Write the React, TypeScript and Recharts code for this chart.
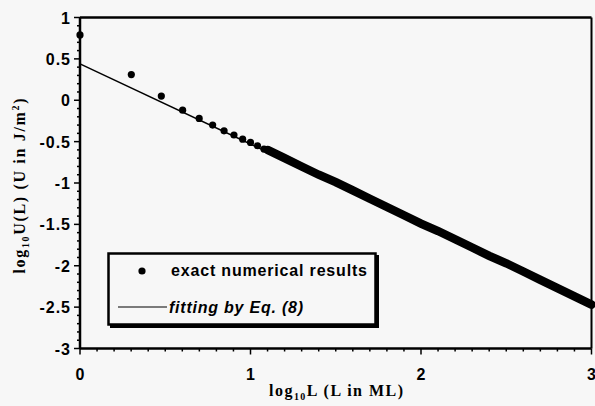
import { ComposedChart, Scatter, Line, XAxis, YAxis, Legend, ReferenceLine } from 'recharts'

// isolated dots, L = 1..12 ML
const DOT_LOG_L = [0, 0.301, 0.477, 0.602, 0.699, 0.778, 0.845, 0.903, 0.954, 1.0, 1.041, 1.079]
const DOT_LOG_U = [0.79, 0.31, 0.05, -0.12, -0.22, -0.3, -0.37, -0.42, -0.47, -0.51, -0.55, -0.59]

// dense part, where the dots merge into one thick band
const BAND_LOG_L = [1.1, 1.2, 1.3, 1.4, 1.5, 1.6, 1.7, 1.8, 1.9, 2.0, 2.1, 2.2, 2.3, 2.4, 2.5, 2.6, 2.7, 2.8, 2.9, 3.0]
const BAND_LOG_U = [-0.6, -0.7, -0.8, -0.9, -0.99, -1.09, -1.19, -1.29, -1.39, -1.49, -1.58, -1.68, -1.78, -1.88, -1.97, -2.07, -2.17, -2.27, -2.37, -2.47]

// fitting by Eq. (8)
const FIT_LOG_L = [0, 3]
const FIT_LOG_U = [0.44, -2.47]

const X_MAJOR = [0, 1, 2, 3]
const Y_MAJOR = [1, 0.5, 0, -0.5, -1, -1.5, -2, -2.5, -3]

const X_TICKS = Array.from({ length: 31 }, (_, i) => i / 10)
const Y_TICKS = Array.from({ length: 41 }, (_, i) => (i - 30) / 10)

const dots = DOT_LOG_L.map((x, i) => ({ x, y: DOT_LOG_U[i] }))
const band = BAND_LOG_L.map((x, i) => ({ x, y: BAND_LOG_U[i] }))
const fit = FIT_LOG_L.map((x, i) => ({ x, y: FIT_LOG_U[i] }))

const tickFont = { fontFamily: 'Arial, "Liberation Sans", sans-serif', fontWeight: 700, fontSize: 16, fill: '#000' }
const titleFont = { fontFamily: '"Liberation Serif", "Times New Roman", serif', fontWeight: 700, fontSize: 16, fill: '#000' }

const isMajor = (v: number, list: number[]) => list.some(m => Math.abs(m - v) < 1e-6)

function XTick(props: any) {
  const { x, y, payload } = props
  const v = payload.value
  const major = isMajor(v, X_MAJOR)
  return (
    <g>
      <line x1={x} y1={y} x2={x} y2={y + (major ? 6 : 3)} stroke="#000" strokeWidth={1.5} />
      {major && (
        <text x={x} y={y + 31} textAnchor="middle" style={tickFont}>
          {Math.round(v)}
        </text>
      )}
    </g>
  )
}

function YTick(props: any) {
  const { x, y, payload } = props
  const v = payload.value
  const major = isMajor(v, Y_MAJOR)
  return (
    <g>
      <line x1={x} y1={y} x2={x - (major ? 6 : 3)} y2={y} stroke="#000" strokeWidth={1.5} />
      {major && (
        <text x={x - 9} y={y + 6} textAnchor="end" letterSpacing={1} style={tickFont}>
          {String(Math.round(v * 10) / 10)}
        </text>
      )}
    </g>
  )
}

function LegendBox() {
  return (
    <svg width={274} height={78} style={{ display: 'block' }}>
      <rect x={1.5} y={1.5} width={267} height={71} fill="none" stroke="#000" strokeWidth={2.5} />
      <line x1={3} y1={74.5} x2={271} y2={74.5} stroke="#000" strokeWidth={3} />
      <line x1={270.5} y1={3} x2={270.5} y2={76} stroke="#000" strokeWidth={3} />
      <circle cx={35} cy={19} r={3.6} fill="#000" />
      <text x={64} y={24} textLength={196} lengthAdjust="spacing"
        style={{ fontFamily: 'Arial, "Liberation Sans", sans-serif', fontWeight: 700, fontSize: 16 }}>
        exact numerical results
      </text>
      <line x1={11} y1={55} x2={60} y2={55} stroke="#000" strokeWidth={1.2} />
      <text x={62} y={61} textLength={134} lengthAdjust="spacing"
        style={{ fontFamily: 'Arial, "Liberation Sans", sans-serif', fontWeight: 700, fontStyle: 'italic', fontSize: 16 }}>
        fitting by Eq. (8)
      </text>
    </svg>
  )
}

function XTitle() {
  return (
    <text x={336} y={396} textAnchor="middle" textLength={134} lengthAdjust="spacing" style={titleFont}>
      log<tspan fontSize={10} dy={4}>10</tspan>
      <tspan dy={-4}>L (L in ML)</tspan>
    </text>
  )
}

function YTitle() {
  return (
    <text x={25} y={186} textAnchor="middle" transform="rotate(-90, 25, 186)" textLength={175} lengthAdjust="spacing" style={titleFont}>
      log<tspan fontSize={10} dy={4}>10</tspan>
      <tspan dy={-4}>U(L)  (U in J/m</tspan>
      <tspan fontSize={10} dy={-6}>2</tspan>
      <tspan dy={6}>)</tspan>
    </text>
  )
}

export default function App() {
  return (
    <div style={{ position: 'absolute', left: 0, top: 0, width: 595, height: 406, background: '#f7f7f7' }}>
      <ComposedChart width={595} height={406} margin={{ top: 17.5, right: 3.5, bottom: 0, left: 0 }}>
        <XAxis
          type="number"
          dataKey="x"
          domain={[0, 3]}
          ticks={X_TICKS}
          interval={0}
          height={57.5}
          tickSize={0}
          tickMargin={0}
          tick={XTick}
          axisLine={{ stroke: '#000', strokeWidth: 2.5 }}
          label={{ content: XTitle }}
        />
        <YAxis
          type="number"
          dataKey="y"
          domain={[-3, 1]}
          ticks={Y_TICKS}
          interval={0}
          width={80}
          tickSize={0}
          tickMargin={0}
          tick={YTick}
          axisLine={{ stroke: '#000', strokeWidth: 2.5 }}
          label={{ content: YTitle }}
        />
        <ReferenceLine y={1} stroke="#000" strokeWidth={2.5} ifOverflow="visible" />
        <ReferenceLine x={3} stroke="#000" strokeWidth={2} ifOverflow="visible" />
        <Line data={fit} dataKey="y" stroke="#000" strokeWidth={1.5} dot={false} isAnimationActive={false} legendType="none" />
        <Line data={band} dataKey="y" stroke="#000" strokeWidth={8.5} strokeLinecap="round" dot={false} isAnimationActive={false} legendType="none" />
        <Scatter
          data={dots}
          dataKey="y"
          isAnimationActive={false}
          shape={(p: any) => <circle cx={p.cx} cy={p.cy} r={3.6} fill="#000" />}
        />
        <Legend
          content={LegendBox}
          layout="vertical"
          verticalAlign="middle"
          align="center"
          wrapperStyle={{ left: 107, top: 252, width: 274, height: 78 }}
        />
      </ComposedChart>
    </div>
  )
}
